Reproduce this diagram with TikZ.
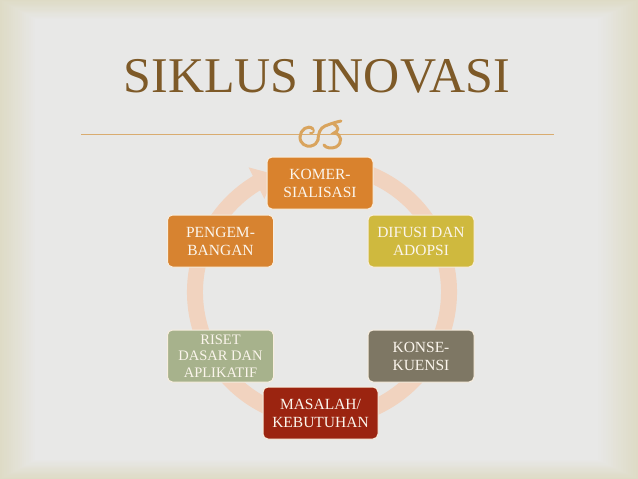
\documentclass[tikz,border=0pt]{standalone}
\usepackage{fontspec}
\setmainfont{Liberation Serif}
\usetikzlibrary{arrows.meta,bending}
\definecolor{bgc}{HTML}{E8E8E7}
\definecolor{edgec}{HTML}{DEDBC6}
\definecolor{titlec}{HTML}{7E5A28}
\definecolor{linec}{HTML}{D9AC70}
\definecolor{ornc}{HTML}{D9A45E}
\definecolor{ringc}{HTML}{F1D3BF}
\definecolor{boxline}{HTML}{F8EEDF}
\definecolor{boxtext}{HTML}{FBF5EC}
\definecolor{komc}{HTML}{D9822D}
\definecolor{pengc}{HTML}{D78330}
\definecolor{difc}{HTML}{CFB93E}
\definecolor{risc}{HTML}{A7B28C}
\definecolor{konc}{HTML}{7E7764}
\definecolor{masc}{HTML}{9B2410}
\begin{document}
\begin{tikzpicture}[x=1pt,y=-1pt,
  box/.style={draw=boxline, line width=1pt, rounded corners=5pt,
    minimum width=106pt, minimum height=52pt, text=boxtext, align=center,
    font=\fontsize{15.5}{18}\selectfont, inner sep=2pt}]
% background
\useasboundingbox (0,0) rectangle (638,479);
\foreach \k in {0,...,16}{
  \pgfmathsetmacro{\p}{100-100*\k/16}
  \fill[edgec!\p!bgc] (2.2*\k,1.2*\k) rectangle (638-2.5*\k,479-1.2*\k);
}
% title
\node[font=\fontsize{50}{60}\selectfont, text=titlec, anchor=base, inner sep=0pt] (title) at (317,92) {SIKLUS INOVASI};
\coordinate (l1) at (81,134.5);
\coordinate (l2) at (554,134.5);
\draw[linec, line width=1.2pt] (l1) -- (l2);
% ornament
\begin{scope}[ornc, line width=3pt, line cap=round]
\draw (313,129) .. controls (308,124) and (300,130) .. (300,137) .. controls (300,144) and (306,147) .. (311,146) .. controls (315,145) and (317,143) .. (318,140);
\draw[line width=1.8pt] (313,129) .. controls (315,131) and (313,134) .. (310,133);
\draw (318,140) .. controls (318,134) and (320,128) .. (325,126) .. controls (330,124) and (336,122) .. (341,121);
\draw (334,124) .. controls (339,127) and (339,131) .. (334,133) .. controls (342,134) and (343,143) .. (336,147) .. controls (331,149) and (326,148) .. (324,145);
\end{scope}
% ring
\draw[ringc, line width=16pt, -{Triangle[width=34pt,length=20pt,flex]}] (354.87,169.33) arc[start angle=-75, end angle=248, radius=127];
% boxes
\node[box, fill=komc] (kom) at (320,183) {KOMER-\\SIALISASI};
\node[box, fill=pengc] (peng) at (220.5,241) {PENGEM-\\BANGAN};
\node[box, fill=difc] (dif) at (421,241) {DIFUSI DAN\\ADOPSI};
\node[box, fill=risc, font=\fontsize{14.5}{16.5}\selectfont] (ris) at (220.5,356) {RISET\\DASAR DAN\\APLIKATIF};
\node[box, fill=konc] (kon) at (421,356) {KONSE-\\KUENSI};
\node[box, fill=masc, minimum width=115pt] (mas) at (320.5,413) {MASALAH/\\KEBUTUHAN};
\end{tikzpicture}
\end{document}
